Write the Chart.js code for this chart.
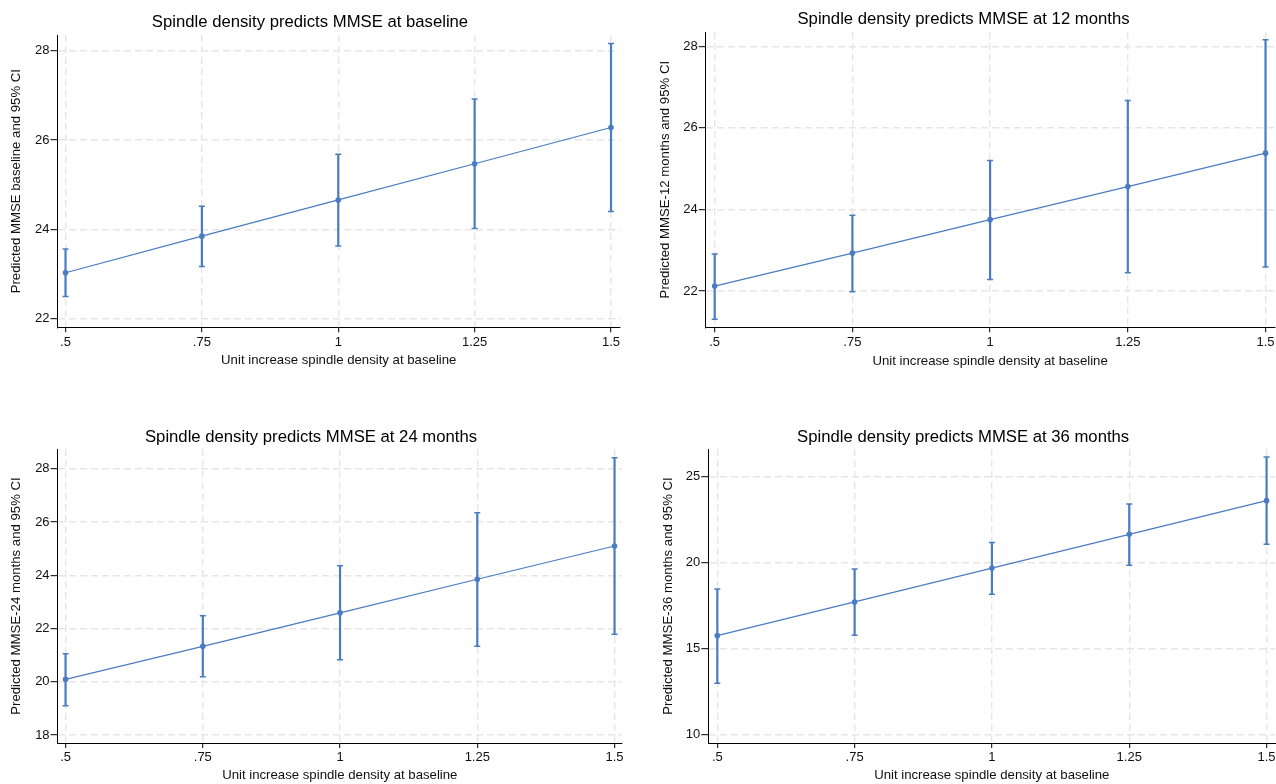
<!DOCTYPE html>
<html>
<head>
<meta charset="utf-8">
<script src="https://cdn.jsdelivr.net/npm/chart.js@4"></script>
<style>
html, body { margin: 0; padding: 0; background: #fff; width: 1276px; height: 784px; overflow: hidden; position: relative; }
canvas { position: absolute; }
</style>
</head>
<body>
<canvas id="c1" width="628" height="380" style="left:0px;top:0px"></canvas>
<canvas id="c2" width="629" height="380" style="left:651px;top:0px"></canvas>
<canvas id="c3" width="632" height="374" style="left:0px;top:410px"></canvas>
<canvas id="c4" width="633" height="374" style="left:651px;top:410px"></canvas>
<script>
// spindle density steps (x axis)
const xVals = [0.5, 0.75, 1, 1.25, 1.5];
const xTickLabels = [".5", ".75", "1", "1.25", "1.5"];

// MMSE at baseline
const baseFit = [23.03, 23.85, 24.66, 25.47, 26.28];
const baseLo = [22.50, 23.17, 23.63, 24.02, 24.40];
const baseHi = [23.56, 24.52, 25.68, 26.92, 28.16];
const baseTicks = [22, 24, 26, 28];

// MMSE at 12 months
const m12Fit = [22.12, 22.93, 23.75, 24.56, 25.38];
const m12Lo = [21.31, 21.98, 22.28, 22.45, 22.59];
const m12Hi = [22.91, 23.86, 25.20, 26.67, 28.16];
const m12Ticks = [22, 24, 26, 28];

// MMSE at 24 months
const m24Fit = [20.09, 21.33, 22.59, 23.85, 25.10];
const m24Lo = [19.10, 20.19, 20.83, 21.33, 21.78];
const m24Hi = [21.05, 22.48, 24.36, 26.35, 28.41];
const m24Ticks = [18, 20, 22, 24, 26, 28];

// MMSE at 36 months
const m36Fit = [15.75, 17.71, 19.68, 21.64, 23.60];
const m36Lo = [12.99, 15.77, 18.16, 19.85, 21.06];
const m36Hi = [18.47, 19.62, 21.17, 23.41, 26.13];
const m36Ticks = [10, 15, 20, 25];

const xTitle = "Unit increase spindle density at baseline";
const blue = "#4a7cc2";
const gridColor = "#e6e6e6";
const fontFamily = "'Liberation Sans', Arial, Helvetica, sans-serif";

Chart.defaults.font.family = fontFamily;
Chart.defaults.color = "#111";

const draw_panel = (id, p) => {
    const ctx = document.getElementById(id);

    const fitPts = xVals.map((x, i) => ({x: x, y: p.fit[i]}));
    let ciPts = [];
    for (let i = 0; i < xVals.length; i++) {
        ciPts.push({x: xVals[i], y: p.lo[i]});
        ciPts.push({x: xVals[i], y: p.hi[i]});
        ciPts.push({x: xVals[i], y: null});
    }

    return new Chart(ctx, {
        type: "line",
        data: {
            datasets: [{
                data: ciPts,
                borderColor: blue,
                borderWidth: 2.2,
                pointStyle: "line",
                pointRadius: 3,
                pointBorderWidth: 1.5,
                pointBorderColor: blue,
                spanGaps: false,
                fill: false
            }, {
                data: fitPts,
                borderColor: blue,
                borderWidth: 1.2,
                pointRadius: 2.8,
                pointBackgroundColor: blue,
                pointBorderWidth: 0,
                tension: 0,
                fill: false
            }]
        },
        options: {
            responsive: false,
            animation: false,
            devicePixelRatio: 1,
            layout: { padding: { left: 0, right: p.padRight, top: 0, bottom: 0 } },
            plugins: {
                legend: { display: false },
                tooltip: { enabled: false },
                title: {
                    display: true,
                    text: p.title,
                    color: "#000",
                    font: { size: 16.7, weight: "normal" },
                    padding: { top: p.titleTop, bottom: p.titleBottom }
                }
            },
            scales: {
                x: {
                    type: "linear",
                    min: p.xMin,
                    max: p.xMax,
                    afterBuildTicks: (s) => { s.ticks = xVals.map(v => ({value: v})); },
                    afterFit: (s) => { s.height = p.xh; },
                    ticks: {
                        callback: (v, i) => xTickLabels[i],
                        font: { size: 13 },
                        color: "#111",
                        padding: 2,
                        maxRotation: 0,
                        autoSkip: false
                    },
                    grid: { color: gridColor, lineWidth: 1.4, drawTicks: true, tickLength: 5, tickColor: "#000", tickWidth: 1 },
                    border: { display: true, color: "#000", width: 1, dash: [7, 4] },
                    title: {
                        display: true,
                        text: xTitle,
                        color: "#111",
                        font: { size: 13.2 },
                        padding: { top: 0, bottom: p.xTitlePad }
                    }
                },
                y: {
                    type: "linear",
                    min: p.yMin,
                    max: p.yMax,
                    afterBuildTicks: (s) => { s.ticks = p.ticks.map(v => ({value: v})); },
                    afterFit: (s) => { s.width = p.yw; },
                    ticks: {
                        font: { size: 13 },
                        color: "#111",
                        padding: 1
                    },
                    grid: { color: gridColor, lineWidth: 1.4, drawTicks: true, tickLength: 7, tickColor: "#000", tickWidth: 1 },
                    border: { display: true, color: "#000", width: 1, dash: [7, 4] },
                    title: {
                        display: true,
                        text: p.yTitle,
                        color: "#111",
                        font: { size: 13.2 },
                        padding: { top: p.yTitlePad, bottom: 0 }
                    }
                }
            }
        }
    });
}

draw_panel("c1", {
    title: "Spindle density predicts MMSE at baseline",
    yTitle: "Predicted MMSE baseline and 95% CI",
    fit: baseFit, lo: baseLo, hi: baseHi, ticks: baseTicks,
    yMin: 21.81, yMax: 28.35, xMin: 0.4853, xMax: 1.5165,
    yw: 57.5, xh: 52.7, padRight: 8,
    titleTop: 12, titleBottom: 3, xTitlePad: 12.1, yTitlePad: 8.5
});

draw_panel("c2", {
    title: "Spindle density predicts MMSE at 12 months",
    yTitle: "Predicted MMSE-12 months and 95% CI",
    fit: m12Fit, lo: m12Lo, hi: m12Hi, ticks: m12Ticks,
    yMin: 21.11, yMax: 28.35, xMin: 0.4837, xMax: 1.5163,
    yw: 54.7, xh: 52.7, padRight: 4,
    titleTop: 9, titleBottom: 3, xTitlePad: 11.1, yTitlePad: 6.4
});

draw_panel("c3", {
    title: "Spindle density predicts MMSE at 24 months",
    yTitle: "Predicted MMSE-24 months and 95% CI",
    fit: m24Fit, lo: m24Lo, hi: m24Hi, ticks: m24Ticks,
    yMin: 17.70, yMax: 28.74, xMin: 0.4855, xMax: 1.5136,
    yw: 57.6, xh: 41, padRight: 10,
    titleTop: 17.3, titleBottom: 1.7, xTitlePad: 0.5, yTitlePad: 8.5
});

draw_panel("c4", {
    title: "Spindle density predicts MMSE at 36 months",
    yTitle: "Predicted MMSE-36 months and 95% CI",
    fit: m36Fit, lo: m36Lo, hi: m36Hi, ticks: m36Ticks,
    yMin: 9.51, yMax: 26.6, xMin: 0.4836, xMax: 1.5159,
    yw: 57.3, xh: 41, padRight: 8.7,
    titleTop: 17.3, titleBottom: 1.7, xTitlePad: 0.5, yTitlePad: 9.6
});
</script>
</body>
</html>
